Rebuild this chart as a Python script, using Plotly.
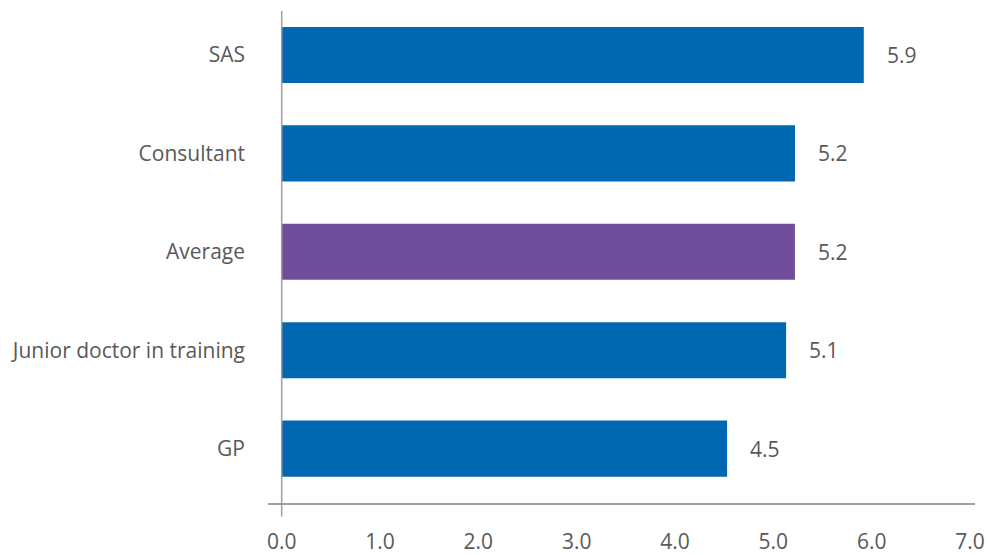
import plotly.graph_objects as go

categories = ["SAS", "Consultant", "Average", "Junior doctor in training", "GP"]
values = [5.92, 5.22, 5.22, 5.13, 4.53]
labels = ["5.9", "5.2", "5.2", "5.1", "4.5"]
colors = ["#0067B1", "#0067B1", "#6F4F9B", "#0067B1", "#0067B1"]
x_ticks = [0, 1, 2, 3, 4, 5, 6, 7]

font_family = "Open Sans, Noto Sans, sans-serif"
text_color = "#595959"
fsize = 21

fig = go.Figure()
fig.add_trace(go.Bar(
    x=values, y=categories, orientation="h",
    marker=dict(color=colors, line=dict(width=0)),
    width=0.57, hoverinfo="skip",
))

for c, v, t in zip(categories, values, labels):
    fig.add_annotation(x=v, y=c, text=t, showarrow=False, xanchor="left",
                       xshift=21, font=dict(family=font_family, size=fsize, color=text_color))

# vertical axis line at x=0 extending slightly below the horizontal axis
fig.add_shape(type="line", xref="x", yref="paper", x0=0, x1=0, y0=-0.0274, y1=1,
              line=dict(color="#A0A0A0", width=1.5))

fig.update_layout(
    width=988, height=555,
    margin=dict(l=268, r=13, t=11, b=51.5),
    paper_bgcolor="white", plot_bgcolor="white",
    showlegend=False,
    font=dict(family=font_family, size=fsize, color=text_color),
    xaxis=dict(range=[-0.139, 7.051], tickvals=x_ticks, tickformat=".1f",
               showgrid=False, zeroline=False, showline=True, linecolor="#A0A0A0",
               linewidth=1.5, ticks="", ticklabelstandoff=19, automargin=False,
               tickfont=dict(family=font_family, size=fsize, color=text_color)),
    yaxis=dict(type="category", categoryorder="array",
               categoryarray=list(reversed(categories)),
               range=[-0.553, 4.447], showgrid=False, zeroline=False, showline=False,
               ticks="", ticklabelstandoff=22, automargin=False,
               tickfont=dict(family=font_family, size=fsize, color=text_color)),
)

fig.write_html("out.html")
